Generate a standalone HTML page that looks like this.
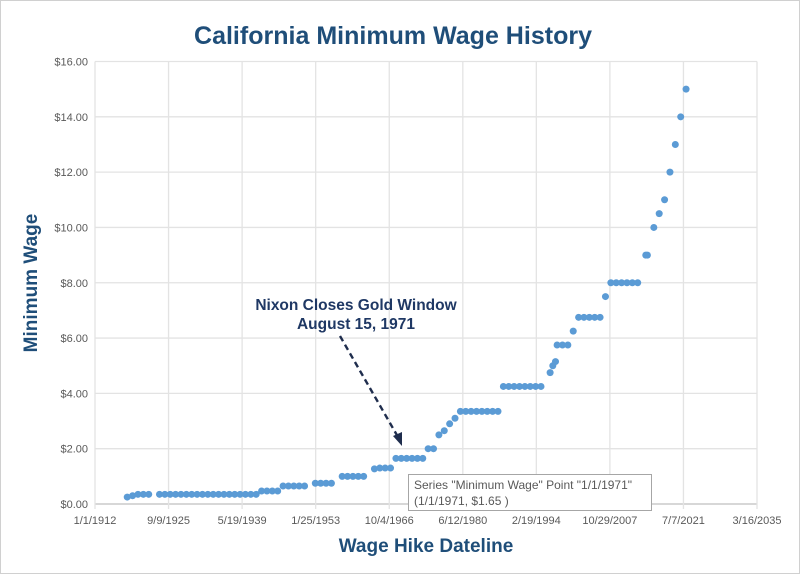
<!DOCTYPE html>
<html><head><meta charset="utf-8"><style>
body{margin:0;background:#fff}
svg{display:block;font-family:"Liberation Sans",sans-serif}
</style></head><body>
<svg id="chart" width="800" height="574" viewBox="0 0 800 574">
<rect x="0.5" y="0.5" width="799" height="573" fill="#fff" stroke="#d0d0d0"/>
<text x="393" y="44" text-anchor="middle" font-size="25" font-weight="bold" fill="#1f4e79" textLength="398" lengthAdjust="spacingAndGlyphs">California Minimum Wage History</text>
<g id="grid"></g>
<g id="yticks"></g>
<g id="xticks"></g>
<text transform="translate(37,283) rotate(-90)" text-anchor="middle" font-size="19" font-weight="bold" fill="#1f4e79">Minimum Wage</text>
<text x="426" y="552" text-anchor="middle" font-size="19" font-weight="bold" fill="#1f4e79">Wage Hike Dateline</text>
<g id="points"></g>
<g>
<text x="356" y="310" text-anchor="middle" font-size="15.5" font-weight="bold" fill="#1f3864">Nixon Closes Gold Window</text>
<text x="356" y="329" text-anchor="middle" font-size="15.5" font-weight="bold" fill="#1f3864">August 15, 1971</text>
<line x1="340" y1="336" x2="398" y2="437" stroke="#1f2d4d" stroke-width="2.4" stroke-dasharray="6,4"/>
<polygon points="402,446 393,436 402,432" fill="#1f2d4d"/>
</g>
<g>
<rect x="408.5" y="474.5" width="243" height="36" fill="#fff" stroke="#a6a6a6"/>
<text x="414" y="489" font-size="12" fill="#595959">Series "Minimum Wage" Point "1/1/1971"</text>
<text x="414" y="505" font-size="12" fill="#595959">(1/1/1971, $1.65 )</text>
</g>
</svg>
<script>
const years = [1918,1919,1920,1921,1922,
 1924,1925,1926,1927,1928,1929,1930,1931,1932,1933,1934,1935,1936,1937,1938,1939,1940,1941,1942,
 1943,1944,1945,1946,1947,1948,1949,1950,1951,1953,1954,1955,1956,
 1958,1959,1960,1961,1962,1964,1965,1966,1967,
 1968,1969,1970,1971,1972,1973,1974,1975,1976,1977,1978,1979,
 1980,1981,1982,1983,1984,1985,1986,1987,
 1988,1989,1990,1991,1992,1993,1994,1995,
 1996.7,1997.2,1997.7,1998,1999,2000,2001,2002,2003,2004,2005,2006,2007,
 2008,2009,2010,2011,2012,2013,2014.5,2014.8,2016,2017,2018,2019,2020,2021,2022];
const wages = [0.25,0.30,0.35,0.35,0.35,
 0.35,0.35,0.35,0.35,0.35,0.35,0.35,0.35,0.35,0.35,0.35,0.35,0.35,0.35,0.35,0.35,0.35,0.35,0.35,
 0.47,0.47,0.47,0.47,0.65,0.65,0.65,0.65,0.65,0.75,0.75,0.75,0.75,
 1.00,1.00,1.00,1.00,1.00,1.27,1.30,1.30,1.30,
 1.65,1.65,1.65,1.65,1.65,1.65,2.00,2.00,2.50,2.65,2.90,3.10,
 3.35,3.35,3.35,3.35,3.35,3.35,3.35,3.35,
 4.25,4.25,4.25,4.25,4.25,4.25,4.25,4.25,
 4.75,5.00,5.15,5.75,5.75,5.75,6.25,6.75,6.75,6.75,6.75,6.75,7.50,
 8.00,8.00,8.00,8.00,8.00,8.00,9.00,9.00,10.00,10.50,11.00,12.00,13.00,14.00,15.00];
const yTickValues = [0,2,4,6,8,10,12,14,16];
const xTickLabels = ["1/1/1912","9/9/1925","5/19/1939","1/25/1953","10/4/1966","6/12/1980","2/19/1994","10/29/2007","7/7/2021","3/16/2035"];
const xTickYears = [1912,1925.69,1939.38,1953.07,1966.76,1980.45,1994.13,2007.82,2021.51,2035.2];

const NS="http://www.w3.org/2000/svg";
const X0=95,X1=757,Y0=504,Y1=61.5;
const xMin=1912,xMax=2035.2,yMin=0,yMax=16;
function xs(v){return X0+(v-xMin)/(xMax-xMin)*(X1-X0);}
function ys(v){return Y0-(v-yMin)/(yMax-yMin)*(Y0-Y1);}
function mk(tag,attrs,parent){const e=document.createElementNS(NS,tag);for(const k in attrs)e.setAttribute(k,attrs[k]);parent.appendChild(e);return e;}
const grid=document.getElementById('grid'),yt=document.getElementById('yticks'),xt=document.getElementById('xticks'),pts=document.getElementById('points');
yTickValues.forEach(v=>{
  const l=mk('line',{x1:X0,x2:X1,y1:ys(v),y2:ys(v),stroke:v===0?'#bfbfbf':'#e3e3e3','stroke-width':1.3},grid);
  
  
  const t=mk('text',{x:X0-7,y:ys(v)+4,'text-anchor':'end','font-size':11,fill:'#595959'},yt);
  t.textContent='$'+v.toFixed(2);
  
  
});
xTickYears.forEach((v,i)=>{
  const l=mk('line',{x1:xs(v),x2:xs(v),y1:Y1,y2:Y0+5,stroke:'#e3e3e3','stroke-width':1.3},grid);
  
  
  const t=mk('text',{x:xs(v),y:524,'text-anchor':'middle','font-size':11,fill:'#595959'},xt);
  t.textContent=xTickLabels[i];
  
  
});
years.forEach((yr,i)=>{
  const c=mk('circle',{cx:xs(yr),cy:ys(wages[i]),r:3.5,fill:'#5b9bd5'},pts);
  
  
});
</script>
</body></html>
